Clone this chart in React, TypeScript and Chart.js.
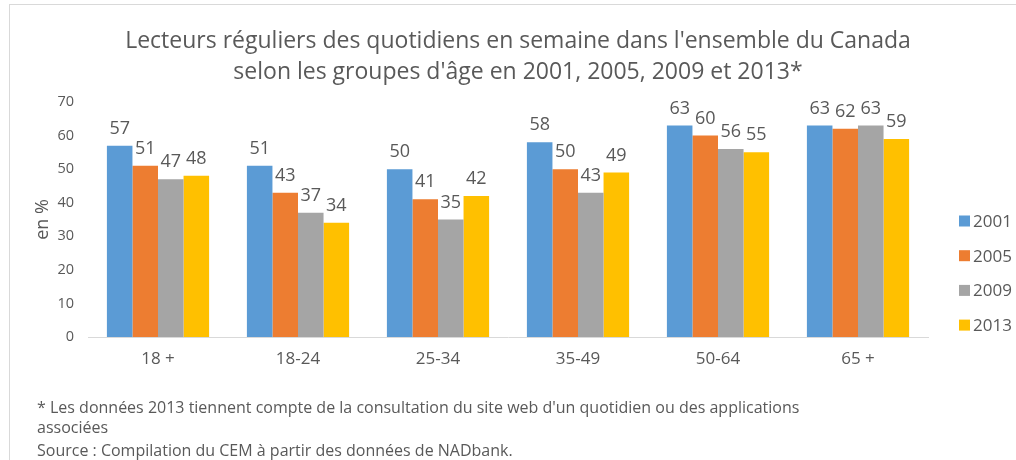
import React, { useEffect, useRef } from "react";
import { Chart, registerables } from "chart.js";

Chart.register(...registerables);

const titleLines = [
  "Lecteurs réguliers des quotidiens en semaine dans l'ensemble du Canada",
  "selon les groupes d'âge en 2001, 2005, 2009 et 2013*",
];
const categories = ["18 +", "18-24", "25-34", "35-49", "50-64", "65 +"];
const seriesNames = ["2001", "2005", "2009", "2013"];
const values2001 = [57, 51, 50, 58, 63, 63];
const values2005 = [51, 43, 41, 50, 60, 62];
const values2009 = [47, 37, 35, 43, 56, 63];
const values2013 = [48, 34, 42, 49, 55, 59];
const colors = ["#5B9BD5", "#ED7D31", "#A5A5A5", "#FFC000"];
const yAxisTitle = "en %";
const footnotes = [
  "* Les données 2013 tiennent compte de la consultation du site web d'un quotidien ou des applications",
  "associées",
  "Source : Compilation du CEM à partir des données de NADbank.",
];

const FONT = "'Open Sans', sans-serif";
const TEXT = "#595959";

const customPlugin = {
  id: "custom",
  afterDatasetsDraw(chart: any) {
    const ctx = chart.ctx;
    ctx.save();
    // data labels
    ctx.font = `18px ${FONT}`;
    ctx.fillStyle = TEXT;
    ctx.textAlign = "center";
    ctx.textBaseline = "alphabetic";
    chart.data.datasets.forEach((ds: any, i: number) => {
      const meta = chart.getDatasetMeta(i);
      meta.data.forEach((el: any, j: number) => {
        ctx.fillText(String(ds.data[j]), el.x, el.y - 12);
      });
    });
    // title
    ctx.font = `23px ${FONT}`;
    ctx.textBaseline = "middle";
    ctx.fillText(titleLines[0], 518, 41);
    ctx.fillText(titleLines[1], 518, 72);
    // legend
    const area = chart.chartArea;
    ctx.font = `17px ${FONT}`;
    ctx.textAlign = "left";
    chart.data.datasets.forEach((ds: any, i: number) => {
      const y = area.bottom - 116 + i * 34.7;
      const x = area.right + 31;
      ctx.fillStyle = ds.backgroundColor;
      ctx.fillRect(x, y - 5.5, 11, 11);
      ctx.fillStyle = TEXT;
      ctx.fillText(ds.label, x + 14, y + 1);
    });
    ctx.restore();
  },
};

export default function App() {
  const ref = useRef<HTMLCanvasElement | null>(null);
  useEffect(() => {
    if (!ref.current) return;
    const allValues = [values2001, values2005, values2009, values2013];
    const chart = new Chart(ref.current, {
      type: "bar",
      data: {
        labels: categories,
        datasets: seriesNames.map((name, i) => ({
          label: name,
          data: allValues[i],
          backgroundColor: colors[i],
          borderWidth: 0,
          categoryPercentage: 0.73,
          barPercentage: 1,
        })),
      },
      options: {
        responsive: false,
        animation: false,
        devicePixelRatio: 1,
        layout: { padding: { top: 102, left: 30, right: 88, bottom: 93 } },
        plugins: {
          legend: { display: false },
          title: { display: false },
          tooltip: { enabled: false },
        },
        scales: {
          x: {
            grid: { display: false },
            border: { display: true, color: "#D9D9D9", width: 1 },
            ticks: { color: TEXT, font: { family: FONT, size: 17 }, padding: 4 },
            afterFit: (s: any) => {
              s.height = 30;
            },
          },
          y: {
            min: 0,
            max: 70,
            grid: { display: false },
            border: { display: false },
            ticks: {
              stepSize: 10,
              color: TEXT,
              font: { family: FONT, size: 14.5 },
              padding: 6,
            },
            title: {
              display: true,
              text: yAxisTitle,
              color: TEXT,
              font: { family: FONT, size: 18 },
              padding: { top: 2, bottom: 0 },
            },
            afterFit: (s: any) => {
              s.width = 58;
            },
          },
        },
      },
      plugins: [customPlugin],
    });
    return () => chart.destroy();
  }, []);

  return (
    <div
      style={{
        position: "fixed",
        left: 0,
        top: 0,
        width: 1016,
        height: 460,
        background: "#fff",
        overflow: "hidden",
        fontFamily: FONT,
      }}
    >
      <div
        style={{
          position: "absolute",
          left: 9,
          top: 4,
          width: 1100,
          height: 500,
          borderTop: "1px solid #D9D9D9",
          borderLeft: "1px solid #D9D9D9",
        }}
      />
      <canvas
        ref={ref}
        width={1016}
        height={460}
        style={{ position: "absolute", left: 0, top: 0, width: 1016, height: 460 }}
      />
      {footnotes.map((t, i) => (
        <div
          key={i}
          style={{
            position: "absolute",
            left: 37,
            top: [397, 417, 440][i],
            fontSize: 16,
            lineHeight: "20px",
            color: TEXT,
            whiteSpace: "nowrap",
          }}
        >
          {t}
        </div>
      ))}
    </div>
  );
}
